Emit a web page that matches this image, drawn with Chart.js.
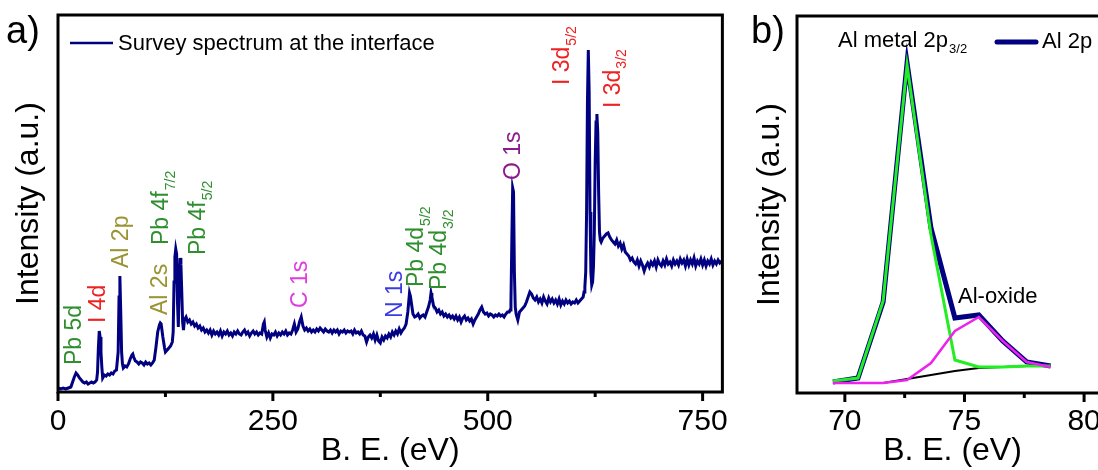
<!DOCTYPE html>
<html>
<head>
<meta charset="utf-8">
<script src="https://cdn.jsdelivr.net/npm/chart.js@4.4.1/dist/chart.umd.min.js"></script>
<style>
  html, body { margin: 0; padding: 0; background: #fff; overflow: hidden; }
  #wrap { position: relative; width: 1098px; height: 470px; overflow: hidden; }
  #survey { position: absolute; left: 0; top: 0; }
  #al2p { position: absolute; left: 740px; top: 0; }
</style>
</head>
<body>
<div id="wrap">
  <canvas id="survey" width="740" height="470"></canvas>
  <canvas id="al2p" width="372" height="470"></canvas>
</div>
<script>
const FONT = "'Liberation Sans', Arial, sans-serif";
const NAVY = '#000080';

// a) survey spectrum, binding energy (eV) vs intensity (a.u.)
const surveyBE = [
    0, 3, 6, 9, 12, 15, 17, 19, 21, 23,
    25, 27, 29, 31, 33, 35, 37, 39, 41, 43,
    45, 46, 47, 48, 49, 50, 51, 52, 54, 56,
    58, 60, 62, 64, 66, 68, 70, 71, 72, 73,
    74, 75, 76, 78, 80, 82, 84, 86, 87, 88,
    90, 92, 94, 96, 98, 100, 102, 104, 106, 108,
    110, 112, 114, 116, 118, 119, 120, 122, 124, 125,
    127, 129, 131, 133, 134, 135, 136, 137, 138, 139,
    140, 141, 142, 143, 144, 145, 146, 147, 149, 151,
    153, 155, 157, 159, 161, 163, 165, 167, 169, 171,
    173, 175, 177, 179, 181, 183, 185, 187, 189, 191,
    193, 195, 197, 199, 201, 203, 205, 207, 209, 211,
    213, 215, 217, 219, 221, 223, 225, 227, 229, 231,
    233, 235, 237, 239, 240, 241, 243, 245, 247, 249,
    251, 253, 255, 257, 259, 261, 263, 265, 267, 269,
    271, 273, 275, 277, 279, 281, 283, 285, 287, 289,
    291, 293, 295, 297, 299, 301, 303, 305, 307, 309,
    311, 313, 315, 317, 319, 321, 323, 325, 327, 329,
    331, 333, 335, 337, 339, 341, 343, 345, 347, 349,
    351, 353, 355, 357, 359, 361, 363, 365, 367, 369,
    371, 373, 375, 377, 379, 381, 383, 385, 387, 389,
    391, 393, 395, 397, 399, 401, 403, 405, 407, 409,
    410, 411, 413, 415, 417, 419, 421, 423, 425, 427,
    429, 431, 433, 434, 435, 437, 439, 441, 443, 445,
    447, 449, 451, 453, 455, 457, 459, 461, 463, 465,
    467, 469, 471, 473, 475, 477, 479, 481, 483, 485,
    487, 489, 491, 493, 495, 497, 499, 501, 503, 505,
    507, 509, 511, 513, 515, 517, 519, 521, 523, 525,
    526, 527, 528, 529, 530, 531, 532, 533, 535, 537,
    539, 541, 543, 545, 547, 549, 551, 553, 555, 557,
    559, 561, 563, 565, 567, 569, 571, 573, 575, 577,
    579, 581, 583, 585, 587, 589, 591, 593, 595, 597,
    599, 601, 603, 605, 607, 609, 611, 612, 613, 614,
    615, 616, 617, 618, 619, 620, 621, 622, 623, 624,
    625, 626, 627, 628, 629, 630, 631, 632, 634, 636,
    638, 640, 642, 644, 646, 648, 650, 652, 654, 656,
    658, 660, 662, 664, 666, 668, 670, 672, 674, 676,
    678, 680, 682, 684, 686, 688, 690, 692, 694, 696,
    698, 700, 702, 704, 706, 708, 710, 712, 714, 716,
    718, 720, 722, 724, 726, 728, 730, 732, 734, 736,
    738, 740, 742, 744, 746, 748, 750, 752, 754, 756,
    758, 760, 762, 764, 766, 768, 770, 772
];
const surveyCounts = [
    4, 3, 4, 3, 4, 5, 10, 15, 19, 17,
    14, 12, 10, 9, 10, 8, 9, 10, 9, 10,
    12, 20, 45, 61, 55, 40, 25, 14, 17, 16,
    18, 17, 19, 18, 21, 22, 40, 95, 116, 80,
    40, 28, 24, 26, 25, 28, 33, 37, 38, 35,
    31, 30, 28, 30, 29, 27, 30, 28, 29, 27,
    29, 32, 45, 60, 67, 69, 68, 55, 44, 40,
    42, 44, 46, 50, 60, 110, 135, 143, 138, 90,
    65, 110, 134, 128, 100, 70, 62, 72, 75, 70,
    72, 68, 70, 66, 68, 64, 66, 62, 64, 60,
    62, 59, 62, 57, 61, 58, 60, 57, 61, 56,
    60, 58, 61, 57, 59, 56, 60, 58, 61, 58,
    57, 60, 62, 58, 60, 56, 59, 61, 58, 60,
    57, 59, 58, 68, 70, 62, 55, 59, 54, 58,
    57, 60, 56, 59, 57, 60, 58, 61, 57, 59,
    58, 62, 68, 60, 63, 70, 75, 66, 62, 64,
    61, 63, 60, 62, 60, 63, 61, 64, 62, 60,
    63, 61, 60, 62, 59, 62, 60, 62, 58, 61,
    60, 62, 59, 61, 60, 61, 58, 62, 59, 60,
    58, 61, 57, 56, 50, 55, 57, 54, 58, 52,
    57, 51, 49, 55, 52, 56, 54, 58, 55, 60,
    57, 61, 58, 63, 59, 62, 64, 68, 80, 99,
    96, 90, 78, 75, 76, 78, 74, 76, 77, 75,
    80, 85, 92, 99, 95, 86, 84, 80, 82, 78,
    80, 76, 78, 75, 77, 74, 76, 73, 76, 72,
    75, 70, 74, 76, 72, 74, 71, 73, 68, 72,
    75, 78, 82, 85, 80, 78, 79, 76, 78, 77,
    75, 77, 76, 78, 76, 77, 75, 78, 80, 80,
    82, 90, 150, 204, 200, 120, 85, 78, 72, 80,
    82, 84, 86, 90, 95, 100, 98, 94, 92, 95,
    90, 93, 89, 95, 91, 88, 94, 90, 93, 89,
    92, 88, 93, 87, 91, 88, 92, 89, 91, 88,
    90, 89, 92, 89, 91, 93, 95, 100, 105, 120,
    180, 290, 342, 300, 180, 120, 107, 110, 125, 160,
    230, 270, 278, 260, 200, 160, 152, 150, 154, 156,
    158, 159, 155, 152, 150, 148, 152, 146, 149, 143,
    147, 140, 138, 136, 132, 134, 130, 128, 132, 126,
    131, 127, 121, 126, 129, 125, 130, 127, 131, 125,
    132, 128, 126, 131, 127, 133, 128, 130, 126, 132,
    128, 131, 127, 133, 129, 132, 126, 133, 127, 132,
    128, 134, 126, 131, 128, 133, 127, 132, 126, 131,
    128, 133, 127, 131, 128, 132, 129, 131
];
const surveyTicks = [0, 250, 500, 750];
const surveyMinorTicks = [125, 375, 625];

// peak labels of panel a, anchored at (BE, intensity) of the label foot
const peakNames = ['Pb 5d', 'I 4d', 'Al 2p', 'Al 2s', 'Pb 4f', 'Pb 4f', 'C 1s', 'N 1s', 'Pb 4d', 'Pb 4d', 'O 1s', 'I 3d', 'I 3d'];
const peakSubs = ['', '', '', '', '7/2', '5/2', '', '', '5/2', '3/2', '', '5/2', '3/2'];
const peakColors = ['#2f8f2f', '#ee2222', '#9a9432', '#9a9432', '#2f8f2f', '#2f8f2f', '#e03ce0', '#3b3be6', '#2f8f2f', '#2f8f2f', '#8b1a8b', '#ee2222', '#ee2222'];
const peakBE = [19.6, 47.3, 73.8, 120, 121, 163.8, 282.7, 392.3, 417.7, 444.2, 529.6, 587.3, 646.1];
const peakFoot = [27, 69, 124, 77, 147, 137, 84, 74, 105, 102, 212, 307, 284];

// b) Al 2p region and its fit
const alBE = [69.5, 70.55, 71.6, 72.6, 73.6, 74.6, 75.6, 76.6, 77.6, 78.6];
const al2pTotal = [11, 15, 91, 330, 165, 75, 78, 52, 31, 27];
const alMetal = [12, 15, 92, 328, 158, 33, 26, 26, 27, 27];
const alOxide = [10, 10, 10, 13, 30, 62, 76, 52, 31, 26];
const alBackground = [10, 10, 10, 14, 18, 22, 25, 26, 27, 27];
const alTicks = [70, 75, 80];
const alMinorTicks = [72.5, 77.5];

const toXY = (xs, ys) => xs.map((x, i) => ({ x: x, y: ys[i] }));

function drawRotated(ctx, x, y, text, sub, color) {
    ctx.save();
    ctx.translate(x, y);
    ctx.rotate(-Math.PI / 2);
    ctx.fillStyle = color;
    ctx.textBaseline = 'middle';
    ctx.textAlign = 'left';
    ctx.font = `23px ${FONT}`;
    ctx.fillText(text, 0, 0);
    if (sub) {
        const w = ctx.measureText(text).width;
        ctx.font = `14px ${FONT}`;
        ctx.fillText(sub, w + 1, 9);
    }
    ctx.restore();
}

function framePlugin(major, minor, extra) {
    return {
        id: 'frame',
        afterDraw(chart) {
            const { ctx, chartArea: a } = chart;
            const x = chart.scales.x;
            ctx.save();
            ctx.strokeStyle = '#000';
            ctx.lineWidth = 3;
            ctx.strokeRect(a.left, a.top, a.right - a.left, a.bottom - a.top);
            const tick = (v, len) => {
                const px = x.getPixelForValue(v);
                ctx.beginPath();
                ctx.moveTo(px, a.bottom);
                ctx.lineTo(px, a.bottom + len);
                ctx.stroke();
            };
            major.forEach(v => tick(v, 9));
            minor.forEach(v => tick(v, 5));
            ctx.restore();
            ctx.save();
            extra(chart, ctx);
            ctx.restore();
        }
    };
}

function axisOptions(min, max, ticks, xHeight, yWidth, yTitlePad, tickPad) {
    return {
        x: {
            type: 'linear',
            min: min,
            max: max,
            grid: { display: false, drawTicks: false },
            border: { display: false },
            afterBuildTicks: s => { s.ticks = ticks.map(v => ({ value: v })); },
            ticks: { font: { family: FONT, size: 30 }, color: '#000', padding: tickPad },
            title: {
                display: true,
                text: 'B. E. (eV)',
                font: { family: FONT, size: 32 },
                color: '#000',
                padding: { top: 0, bottom: 0 },
            },
            afterFit: s => { s.height = xHeight; },
        },
        y: {
            min: 0,
            max: 377,
            grid: { display: false, drawTicks: false },
            border: { display: false },
            ticks: { display: false },
            title: {
                display: true,
                text: 'Intensity (a.u.)',
                font: { family: FONT, size: 32 },
                color: '#000',
                padding: { top: yTitlePad, bottom: 0 },
            },
            afterFit: s => { s.width = yWidth; },
        },
    };
}

new Chart(document.getElementById('survey'), {
    type: 'line',
    data: {
        datasets: [{
            label: 'Survey spectrum at the interface',
            data: toXY(surveyBE, surveyCounts),
            borderColor: NAVY,
            borderWidth: 3,
            pointRadius: 0,
            tension: 0,
        }],
    },
    options: {
        responsive: false,
        animation: false,
        layout: { padding: { top: 15, right: 12, left: 0, bottom: 0 } },
        plugins: { legend: { display: false }, tooltip: { enabled: false } },
        scales: axisOptions(0, 773, surveyTicks, 78, 58, 10, 12),
    },
    plugins: [framePlugin(surveyTicks, surveyMinorTicks, (chart, ctx) => {
        const { x, y } = chart.scales;
        ctx.fillStyle = '#000';
        ctx.font = `38px ${FONT}`;
        ctx.fillText('a)', 6, 43);

        ctx.strokeStyle = NAVY;
        ctx.lineWidth = 2.5;
        ctx.beginPath();
        ctx.moveTo(70, 43);
        ctx.lineTo(113, 43);
        ctx.stroke();
        ctx.font = `22px ${FONT}`;
        ctx.fillText('Survey spectrum at the interface', 118, 50);

        peakNames.forEach((name, i) => {
            drawRotated(ctx, x.getPixelForValue(peakBE[i]), y.getPixelForValue(peakFoot[i]),
                name, peakSubs[i], peakColors[i]);
        });
    })],
});

new Chart(document.getElementById('al2p'), {
    type: 'line',
    data: {
        datasets: [
            { label: 'Background', data: toXY(alBE, alBackground), borderColor: '#000', borderWidth: 2, order: 4 },
            { label: 'Al 2p', data: toXY(alBE, al2pTotal), borderColor: NAVY, borderWidth: 5, order: 3 },
            { label: 'Al metal', data: toXY(alBE, alMetal), borderColor: '#22ee22', borderWidth: 3, order: 2 },
            { label: 'Al-oxide', data: toXY(alBE, alOxide), borderColor: '#ee22ee', borderWidth: 2.5, order: 1 },
        ].map(d => Object.assign(d, { pointRadius: 0, tension: 0 })),
    },
    options: {
        responsive: false,
        animation: false,
        layout: { padding: { top: 16, right: 3, left: 0, bottom: 0 } },
        plugins: { legend: { display: false }, tooltip: { enabled: false } },
        scales: axisOptions(68, 81, alTicks, 77, 57, 11, 11),
    },
    plugins: [framePlugin(alTicks, alMinorTicks, (chart, ctx) => {
        ctx.fillStyle = '#000';
        ctx.font = `38px ${FONT}`;
        ctx.fillText('b)', 11, 43);

        ctx.font = `22px ${FONT}`;
        ctx.fillText('Al metal 2p', 98, 47);
        const w = ctx.measureText('Al metal 2p').width;
        ctx.font = `13px ${FONT}`;
        ctx.fillText('3/2', 98 + w + 1, 53);

        ctx.strokeStyle = NAVY;
        ctx.lineWidth = 5;
        ctx.lineCap = 'round';
        ctx.beginPath();
        ctx.moveTo(257, 42);
        ctx.lineTo(296, 42);
        ctx.stroke();
        ctx.font = `22px ${FONT}`;
        ctx.fillText('Al 2p', 302, 48);

        ctx.fillText('Al-oxide', 218, 303);
    })],
});
</script>
</body>
</html>
